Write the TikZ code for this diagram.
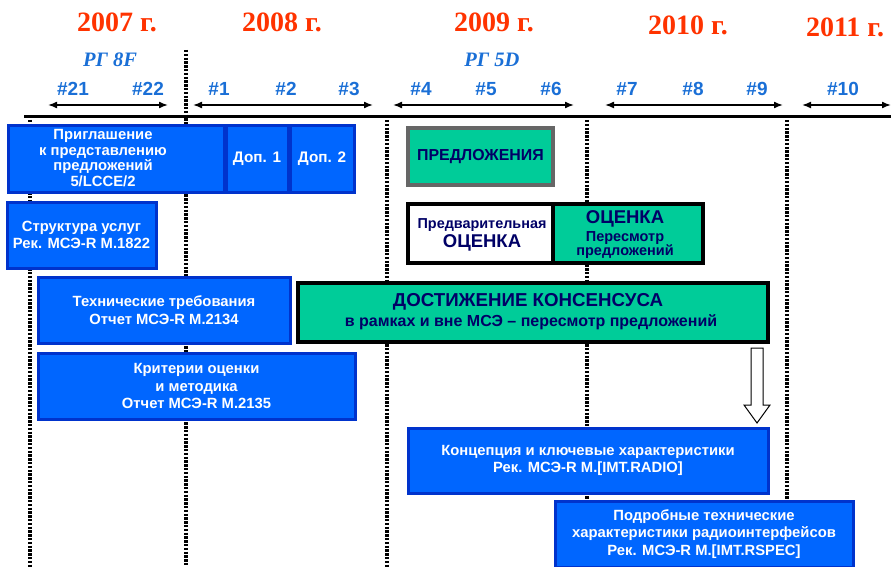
\documentclass[tikz,border=0pt]{standalone}
\usepackage{fontspec}
\setmainfont{Liberation Sans}
\newfontfamily\serifyr{Liberation Serif}
\usetikzlibrary{arrows.meta}
\definecolor{yearred}{HTML}{FF3300}
\definecolor{numblue}{HTML}{1A6FD6}
\definecolor{boxblue}{HTML}{0066FF}
\definecolor{boxedge}{HTML}{0033CC}
\definecolor{tealc}{HTML}{00CC99}
\definecolor{navy}{HTML}{000066}
\tikzset{
  yearlbl/.style={text=yearred, font=\serifyr\bfseries\fontsize{28}{30}\selectfont, inner sep=0pt},
  grplbl/.style={text=numblue, font=\serifyr\bfseries\itshape\fontsize{20.5}{22}\selectfont, inner sep=0pt},
  numlbl/.style={text=numblue, font=\bfseries\fontsize{19}{21}\selectfont, inner sep=0pt},
  period/.style={line width=1.6pt, {Latex[length=9pt,width=7pt]}-{Latex[length=9pt,width=7pt]}},
  dotline/.style={line width=3.5pt, dash pattern=on 2.4pt off 1.4pt},
  bluebox/.style={draw=boxedge, fill=boxblue, line width=3pt, rectangle, inner sep=0pt},
  boxtext/.style={text=white, font=\bfseries\fontsize{14.8}{17.8}\selectfont, align=center, inner sep=0pt},
  tealbox/.style={draw=black, fill=tealc, line width=3.5pt, rectangle, inner sep=0pt},
  navytext/.style={text=navy, font=\bfseries, align=center, inner sep=0pt},
}
\begin{document}
\begin{tikzpicture}[x=1pt,y=-1pt]
\useasboundingbox (0,0) rectangle (891,567);
% years
\node[yearlbl] (y2007) at (117,22) {2007 г.};
\node[yearlbl] (y2008) at (282,22) {2008 г.};
\node[yearlbl] (y2009) at (494,22) {2009 г.};
\node[yearlbl] (y2010) at (688,25) {2010 г.};
\node[yearlbl] (y2011) at (845,27) {2011 г.};
% groups
\node[grplbl] (g8f) at (110,60) {РГ 8F};
\node[grplbl] (g5d) at (492,60) {РГ 5D};
% meeting numbers
\node[numlbl] (n21) at (73,89) {\#21};
\node[numlbl] (n22) at (148,89) {\#22};
\node[numlbl] (n1) at (219,89) {\#1};
\node[numlbl] (n2) at (286,89) {\#2};
\node[numlbl] (n3) at (349,89) {\#3};
\node[numlbl] (n4) at (421,89) {\#4};
\node[numlbl] (n5) at (486,89) {\#5};
\node[numlbl] (n6) at (551,89) {\#6};
\node[numlbl] (n7) at (627,89) {\#7};
\node[numlbl] (n8) at (693,89) {\#8};
\node[numlbl] (n9) at (757,89) {\#9};
\node[numlbl] (n10) at (843,89) {\#10};
% dotted separators
\coordinate (d0t) at (30,120);  \coordinate (d0b) at (30,567);
\coordinate (d1t) at (186,50);  \coordinate (d1b) at (186,567);
\coordinate (d2t) at (387,120); \coordinate (d2b) at (387,567);
\coordinate (d3t) at (587,120); \coordinate (d3b) at (587,567);
\coordinate (d4t) at (787,120); \coordinate (d4b) at (787,567);
\foreach \i in {0,...,4} {\draw[dotline] (d\i t) -- (d\i b);}
% period arrows
\coordinate (p1a) at (48,105);  \coordinate (p1b) at (168,105);
\coordinate (p2a) at (193,105); \coordinate (p2b) at (373,105);
\coordinate (p3a) at (393,105); \coordinate (p3b) at (574,105);
\coordinate (p4a) at (605,105); \coordinate (p4b) at (783,105);
\coordinate (p5a) at (802,105); \coordinate (p5b) at (891,105);
\foreach \i in {1,...,5} {\draw[period] (p\i a) -- (p\i b);}
% timeline
\coordinate (tl0) at (24,117); \coordinate (tl1) at (891,117);
\draw[line width=3pt] (tl0) -- (tl1);
% blue boxes
\node[bluebox, minimum width=216pt, minimum height=66pt] (invite) at (116,159) {};
\node[boxtext, font=\bfseries\fontsize{14.8}{15.8}\selectfont] (invitetxt) at (103,158) {Приглашение\\к представлению\\предложений\\5/LCCE/2};
\node[bluebox, minimum width=62pt, minimum height=66pt, boxtext, font=\bfseries\fontsize{15.3}{17}\selectfont] (dop1) at (257,159) {Доп. 1};
\node[bluebox, minimum width=64pt, minimum height=66pt, boxtext, font=\bfseries\fontsize{15.3}{17}\selectfont] (dop2) at (322,159) {Доп. 2};
\node[bluebox, minimum width=149pt, minimum height=66pt, boxtext] (serv) at (81.5,235) {Структура услуг\\Рек. МСЭ-R M.1822};
\node[bluebox, minimum width=252pt, minimum height=66pt, boxtext] (tech) at (164,310) {Технические требования\\Отчет МСЭ-R M.2134};
\node[bluebox, minimum width=317pt, minimum height=66pt, boxtext] (crit) at (196.5,386) {Критерии оценки\\и методика\\Отчет МСЭ-R M.2135};
\node[bluebox, minimum width=360pt, minimum height=65pt, boxtext] (conc) at (588,460.5) {Концепция и ключевые характеристики\\Рек. МСЭ-R M.[IMT.RADIO]};
\node[bluebox, minimum width=298pt, minimum height=66pt, boxtext] (spec) at (704,534) {Подробные технические\\характеристики радиоинтерфейсов\\Рек. МСЭ-R M.[IMT.RSPEC]};
% teal / white boxes
\node[tealbox, draw=black!60, minimum width=145pt, minimum height=57pt, navytext, font=\bfseries\fontsize{15.9}{17}\selectfont] (prop) at (480.5,156.5) {ПРЕДЛОЖЕНИЯ};
\node[tealbox, fill=white, minimum width=145pt, minimum height=59pt] (prelim) at (480.5,233.5) {};
\node[navytext, font=\bfseries\fontsize{14.4}{16}\selectfont] (prelimtxt1) at (482,225) {Предварительная};
\node[navytext, font=\bfseries\fontsize{18.5}{20}\selectfont] (prelimtxt2) at (482,243) {ОЦЕНКА};
\node[tealbox, minimum width=150pt, minimum height=59pt] (eval) at (628,233.5) {};
\node[navytext, font=\bfseries\fontsize{18.5}{20}\selectfont] (evaltxt1) at (625,219) {ОЦЕНКА};
\node[navytext, font=\bfseries\fontsize{14.5}{14.5}\selectfont] (evaltxt2) at (625,245) {Пересмотр\\предложений};
\node[tealbox, line width=4pt, minimum width=470pt, minimum height=59pt] (cons) at (533,312.5) {};
\node[navytext, font=\bfseries\fontsize{18.7}{20}\selectfont] (constxt1) at (528,302) {ДОСТИЖЕНИЕ КОНСЕНСУСА};
\node[navytext, font=\bfseries\fontsize{16}{18}\selectfont] (constxt2) at (531,322) {в рамках и вне МСЭ -- пересмотр предложений};
% hollow arrow from consensus to concept
\coordinate (haTop) at (757,348);
\draw[line width=1pt, fill=white]
  (haTop) ++(-6,0) -- ++(12,0) -- (763,405) -- (770,405) -- (757,423) -- (744,405) -- (751,405) -- cycle;
\end{tikzpicture}
\end{document}
